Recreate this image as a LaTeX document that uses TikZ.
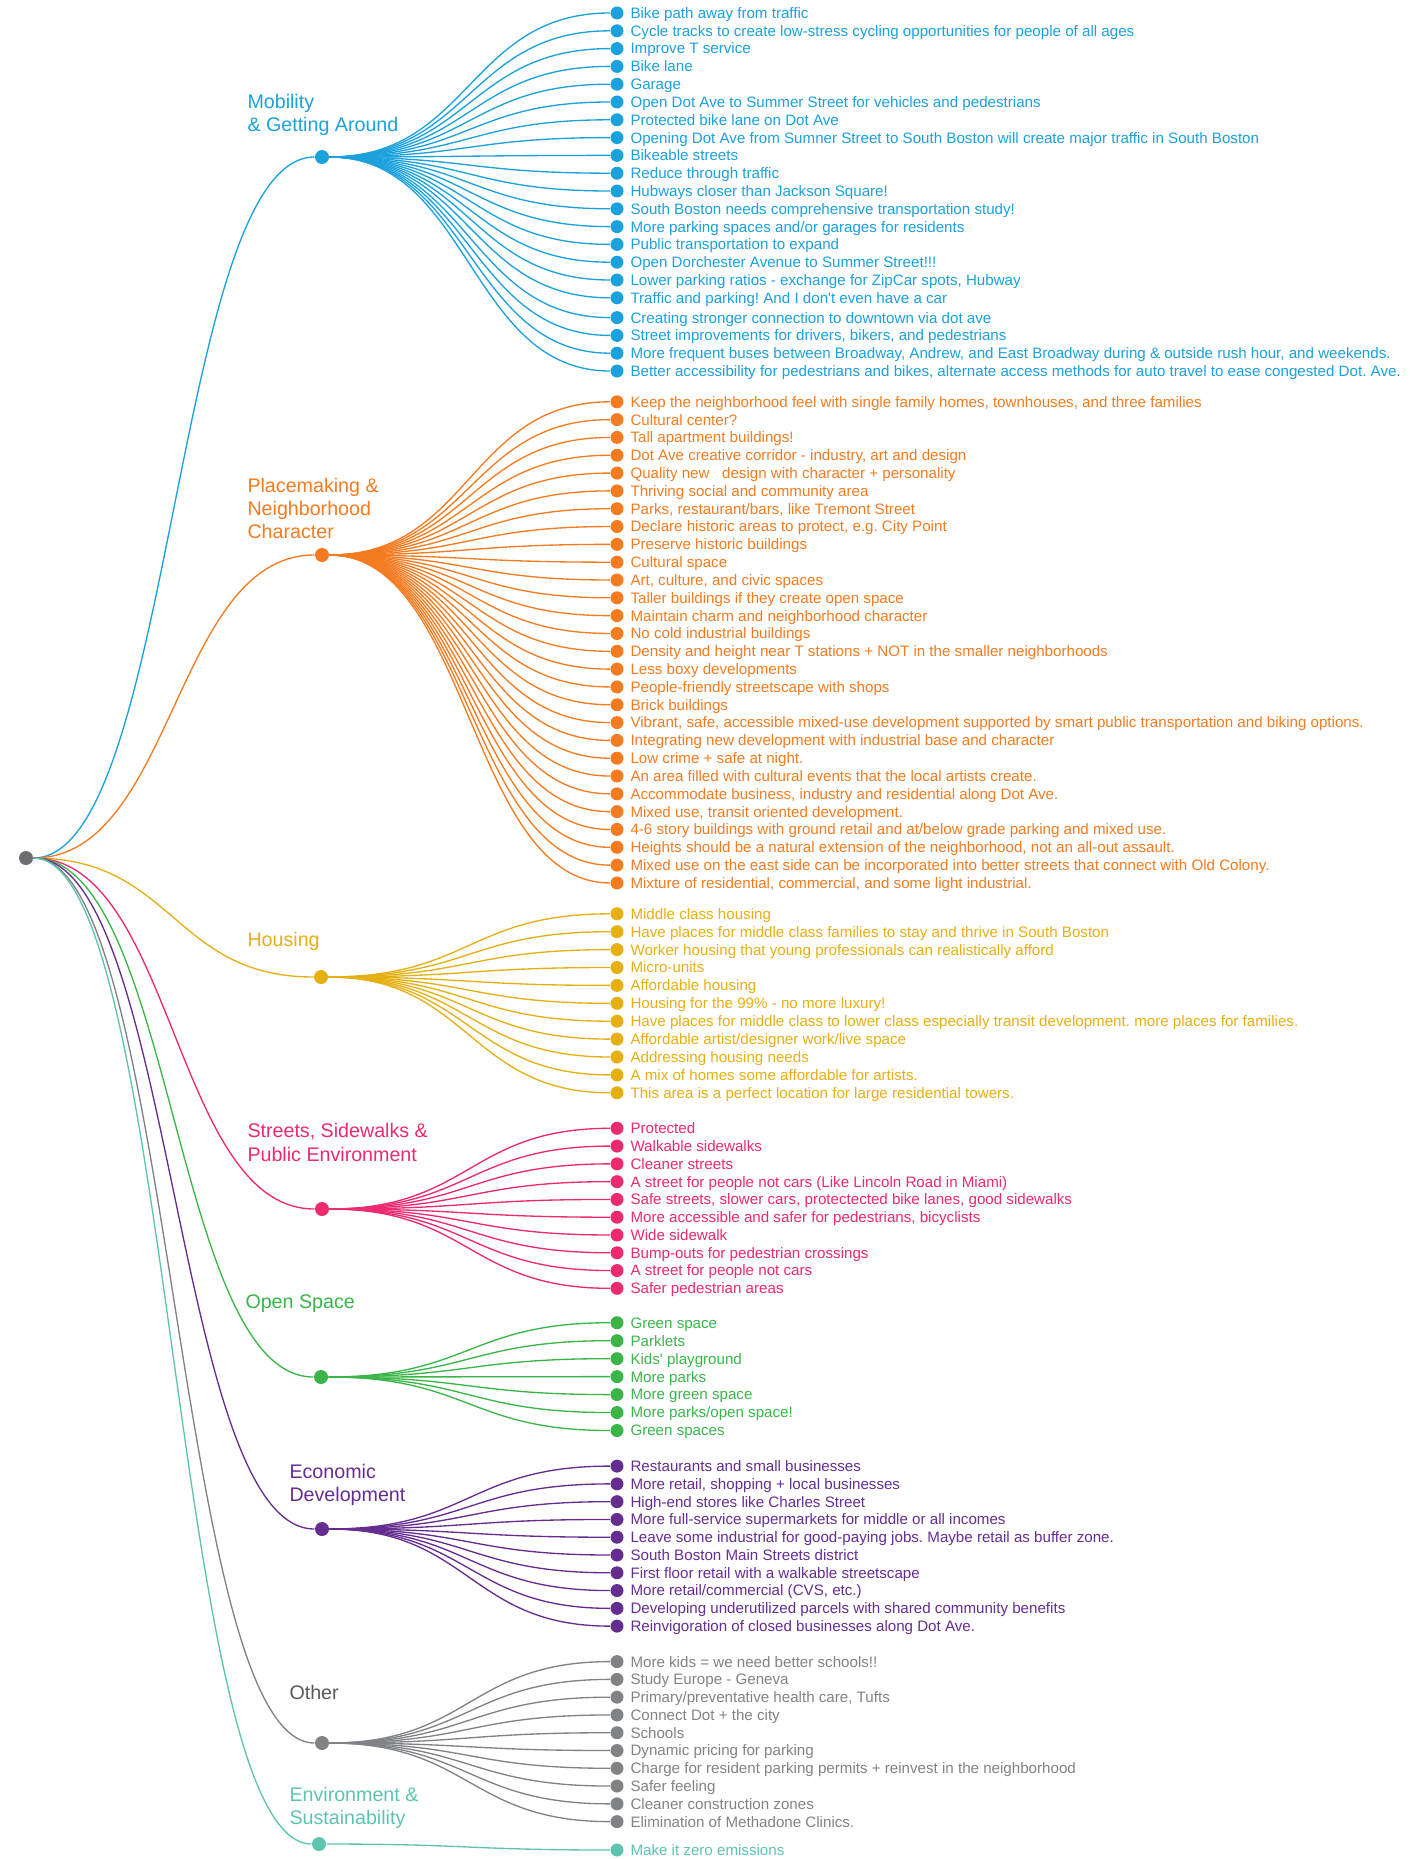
\documentclass[tikz,border=0pt]{standalone}
\usepackage{fontspec}
\setmainfont{Liberation Sans}
\usetikzlibrary{calc}
\frenchspacing

\definecolor{rootC}{HTML}{6D6E71}
\definecolor{mobC}{HTML}{1BA1DC}
\definecolor{placeC}{HTML}{F47B20}
\definecolor{houseC}{HTML}{E6AF14}
\definecolor{streetC}{HTML}{EB2A70}
\definecolor{openC}{HTML}{3BB54A}
\definecolor{econC}{HTML}{662D91}
\definecolor{otherC}{HTML}{808285}
\definecolor{otherT}{HTML}{58595B}
\definecolor{envC}{HTML}{5EC4B0}

\tikzset{every picture/.style={line width=0.75pt}}
\tikzset{
  catdot/.style={circle, fill=#1, inner sep=0pt, minimum size=10.5pt},
  leafdot/.style={circle, fill=#1, inner sep=0pt, minimum size=9.75pt},
  leaftext/.style={anchor=west, inner sep=0pt, text=#1, font=\fontsize{11.35}{13}\selectfont, text height=8.1pt, text depth=0pt},
  cattext/.style={anchor=base west, align=left, inner sep=0pt, text=#1, font=\fontsize{14.75}{17.4}\selectfont},
  link/.style={draw=#1, line width=1pt, to path={.. controls ($(\tikztostart)+(148,0)$) and ($(\tikztotarget)+(-148,0)$) .. (\tikztotarget)}},
}

\begin{document}
\begin{tikzpicture}[x=0.75pt,y=0.75pt,yscale=-1]
	\useasboundingbox (0,0) rectangle (1427,1859);

	%Shape: Circle [root]
	\node[catdot=rootC] (root) at (26,858) {};

	%Shape: Circle [categories]
	\node[catdot=mobC] (mob) at (322,157) {};
	\node[catdot=placeC] (place) at (322,555) {};
	\node[catdot=houseC] (house) at (321,977) {};
	\node[catdot=streetC] (street) at (322,1209) {};
	\node[catdot=openC] (open) at (321,1377) {};
	\node[catdot=econC] (econ) at (322,1529) {};
	\node[catdot=otherC] (other) at (322,1743) {};
	\node[catdot=envC] (env) at (319,1844) {};

	%Curves root to categories
	\draw[link=mobC] (root) to (mob);
	\draw[link=placeC] (root) to (place);
	\draw[link=houseC] (root) to (house);
	\draw[link=streetC] (root) to (street);
	\draw[link=openC] (root) to (open);
	\draw[link=econC] (root) to (econ);
	\draw[link=otherC] (root) to (other);
	\draw[link=envC] (root) to (env);

	% Text Node (base = last line)
	\node[cattext=mobC] (mobL) at (247,131.5) {Mobility\\\& Getting Around};
	% Text Node
	\node[cattext=placeC] (placeL) at (247,538.5) {Placemaking \&\\Neighborhood\\Character};
	% Text Node
	\node[cattext=houseC] (houseL) at (247,946) {Housing};
	% Text Node
	\node[cattext=streetC] (streetL) at (247,1161) {Streets, Sidewalks \&\\Public Environment};
	% Text Node
	\node[cattext=openC] (openL) at (245,1308) {Open Space};
	% Text Node
	\node[cattext=econC] (econL) at (289,1501.5) {Economic\\Development};
	% Text Node
	\node[cattext=otherT] (otherL) at (289,1699) {Other};
	% Text Node
	\node[cattext=envC] (envL) at (289,1824.5) {Environment \&\\Sustainability};

	%Mobility leaves
	\foreach \t [count=\i] in {Bike path away from traffic,
		Cycle tracks to create low-stress cycling opportunities for people of all ages,
		Improve T service, Bike lane, Garage,
		Open Dot Ave to Summer Street for vehicles and pedestrians,
		Protected bike lane on Dot Ave,
		Opening Dot Ave from Sumner Street to South Boston will create major traffic in South Boston,
		Bikeable streets, Reduce through traffic, Hubways closer than Jackson Square!,
		South Boston needs comprehensive transportation study!,
		More parking spaces and/or garages for residents,
		Public transportation to expand, Open Dorchester Avenue to Summer Street!!!,
		{Lower parking ratios - exchange for ZipCar spots, Hubway},
		Traffic and parking! And I don\textquotesingle t even have a car,
		Creating stronger connection to downtown via dot ave,
		{Street improvements for drivers, bikers, and pedestrians},
		{More frequent buses between Broadway, Andrew, and East Broadway during \& outside rush hour, and weekends.},
		{Better accessibility for pedestrians and bikes, alternate access methods for auto travel to ease congested Dot. Ave.}}{
		\pgfmathsetmacro\ly{13+17.8*(\i-1)+2*(\i>17)}
		\node[leafdot=mobC] (mob\i) at (617,\ly) {};
		\node[leaftext=mobC] (mob\i t) at (630,\ly) {\t};
		\draw[link=mobC] (mob) to (mob\i);
	}

	%Placemaking leaves
	\foreach \t [count=\i] in {{Keep the neighborhood feel with single family homes, townhouses, and three families},
		Cultural center?, Tall apartment buildings!,
		{Dot Ave creative corridor - industry, art and design},
		Quality new\ \ \ design with character + personality,
		Thriving social and community area,
		{Parks, restaurant/bars, like Tremont Street},
		{Declare historic areas to protect, e.g. City Point},
		Preserve historic buildings, Cultural space,
		{Art, culture, and civic spaces},
		Taller buildings if they create open space,
		Maintain charm and neighborhood character,
		No cold industrial buildings,
		Density and height near T stations + NOT in the smaller neighborhoods,
		Less boxy developments, People-friendly streetscape with shops, Brick buildings,
		{Vibrant, safe, accessible mixed-use development supported by smart public transportation and biking options.},
		Integrating new development with industrial base and character,
		Low crime + safe at night.,
		An area filled with cultural events that the local artists create.,
		{Accommodate business, industry and residential along Dot Ave.},
		{Mixed use, transit oriented development.},
		4-6 story buildings with ground retail and at/below grade parking and mixed use.,
		{Heights should be a natural extension of the neighborhood, not an all-out assault.},
		Mixed use on the east side can be incorporated into better streets that connect with Old Colony.,
		{Mixture of residential, commercial, and some light industrial.}}{
		\pgfmathsetmacro\ly{401.8+17.82*(\i-1)}
		\node[leafdot=placeC] (place\i) at (617,\ly) {};
		\node[leaftext=placeC] (place\i t) at (630,\ly) {\t};
		\draw[link=placeC] (place) to (place\i);
	}

	%Housing leaves
	\foreach \t [count=\i] in {Middle class housing,
		Have places for middle class families to stay and thrive in South Boston,
		Worker housing that young professionals can realistically afford,
		Micro-units, Affordable housing, Housing for the 99\% - no more luxury!,
		Have places for middle class to lower class especially transit development. more places for families.,
		Affordable artist/designer work/live space, Addressing housing needs,
		A mix of homes some affordable for artists.,
		This area is a perfect location for large residential towers.}{
		\pgfmathsetmacro\ly{913.8+17.9*(\i-1)}
		\node[leafdot=houseC] (house\i) at (617,\ly) {};
		\node[leaftext=houseC] (house\i t) at (630,\ly) {\t};
		\draw[link=houseC] (house) to (house\i);
	}

	%Streets leaves
	\foreach \t [count=\i] in {Protected, Walkable sidewalks, Cleaner streets,
		A street for people not cars (Like Lincoln Road in Miami),
		{Safe streets, slower cars, protectected bike lanes, good sidewalks},
		{More accessible and safer for pedestrians, bicyclists},
		Wide sidewalk, Bump-outs for pedestrian crossings,
		A street for people not cars, Safer pedestrian areas}{
		\pgfmathsetmacro\ly{1128.3+17.78*(\i-1)}
		\node[leafdot=streetC] (street\i) at (617,\ly) {};
		\node[leaftext=streetC] (street\i t) at (630,\ly) {\t};
		\draw[link=streetC] (street) to (street\i);
	}

	%Open space leaves
	\foreach \t [count=\i] in {Green space, Parklets, Kids\textquotesingle\ playground, More parks,
		More green space, More parks/open space!, Green spaces}{
		\pgfmathsetmacro\ly{1322.7+17.97*(\i-1)}
		\node[leafdot=openC] (open\i) at (617,\ly) {};
		\node[leaftext=openC] (open\i t) at (630,\ly) {\t};
		\draw[link=openC] (open) to (open\i);
	}

	%Economic leaves
	\foreach \t [count=\i] in {Restaurants and small businesses,
		{More retail, shopping + local businesses},
		High-end stores like Charles Street,
		More full-service supermarkets for middle or all incomes,
		Leave some industrial for good-paying jobs. Maybe retail as buffer zone.,
		South Boston Main Streets district,
		First floor retail with a walkable streetscape,
		{More retail/commercial (CVS, etc.)},
		Developing underutilized parcels with shared community benefits,
		Reinvigoration of closed businesses along Dot Ave.}{
		\pgfmathsetmacro\ly{1466.1+17.78*(\i-1)}
		\node[leafdot=econC] (econ\i) at (617,\ly) {};
		\node[leaftext=econC] (econ\i t) at (630,\ly) {\t};
		\draw[link=econC] (econ) to (econ\i);
	}

	%Other leaves
	\foreach \t [count=\i] in {More kids = we need better schools!!,
		Study Europe - Geneva, {Primary/preventative health care, Tufts},
		Connect Dot + the city, Schools, Dynamic pricing for parking,
		Charge for resident parking permits + reinvest in the neighborhood,
		Safer feeling, Cleaner construction zones, Elimination of Methadone Clinics.}{
		\pgfmathsetmacro\ly{1661.6+17.78*(\i-1)}
		\node[leafdot=otherC] (other\i) at (617,\ly) {};
		\node[leaftext=otherC] (other\i t) at (630,\ly) {\t};
		\draw[link=otherC] (other) to (other\i);
	}

	%Environment leaf
	\node[leafdot=envC] (env1) at (617,1850) {};
	% Text Node
	\node[leaftext=envC] (env1t) at (630,1850) {Make it zero emissions};
	\draw[link=envC] (env) to (env1);

\end{tikzpicture}
\end{document}
